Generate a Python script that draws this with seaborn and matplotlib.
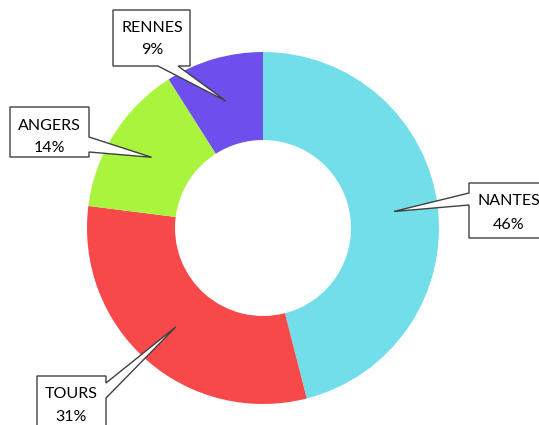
import numpy as np
import matplotlib
matplotlib.use("Agg")
import matplotlib.pyplot as plt
import seaborn as sns
from matplotlib.patches import Polygon

# ---- data ----
cities = ["NANTES", "TOURS", "ANGERS", "RENNES"]
shares = [46, 31, 14, 9]
colors = ["#72DEEA", "#F7484A", "#A9F53D", "#6E4FEE"]

sns.set_theme(style="white")
plt.rcParams['font.family'] = ['Lato', 'DejaVu Sans']

W, H = 539, 425
CX, CY = 263, 228       # pie centre in pixels
R_OUT, R_IN = 176, 88

fig = plt.figure(figsize=(W / 100, H / 100), dpi=100)
ax = fig.add_axes([0, 0, 1, 1])

wedges, _ = ax.pie(shares, colors=colors, startangle=90, counterclock=False,
                   radius=R_OUT, wedgeprops=dict(width=R_OUT - R_IN, linewidth=0))
ax.set_xlim(-CX, W - CX)
ax.set_ylim(-(H - CY), CY)
ax.set_aspect('equal')
ax.axis('off')

def px(x, y):
    return (x - CX, CY - y)

# callout boxes (pixel coords): x0, y0, x1, y1, side, base a, base b
boxes = {
    "RENNES": (113, 10, 190, 66, "bottom", 158, 178),
    "ANGERS": (10, 107, 89, 157, "right", 137, 152),
    "NANTES": (469, 183, 570, 238, "left", 193, 205),
    "TOURS": (37, 376, 106, 460, "right", 383, 398),
}
text_pos = {
    "RENNES": (152, 28, 50),
    "ANGERS": (49.5, 126, 148),
    "NANTES": (509, 201, 225),
    "TOURS": (71, 394, 417),
}

r_mid = (R_OUT + R_IN) / 2
for w, city, val in zip(wedges, cities, shares):
    ang = np.deg2rad((w.theta1 + w.theta2) / 2)
    tip = (r_mid * np.cos(ang), r_mid * np.sin(ang))
    x0, y0, x1, y1, side, a, b = boxes[city]
    if side == "bottom":
        verts = [px(x0, y0), px(x1, y0), px(x1, y1), px(b, y1), tip, px(a, y1), px(x0, y1)]
    elif side == "right":
        verts = [px(x0, y0), px(x1, y0), px(x1, a), tip, px(x1, b), px(x1, y1), px(x0, y1)]
    else:  # left
        verts = [px(x0, y0), px(x1, y0), px(x1, y1), px(x0, y1), px(x0, b), tip, px(x0, a)]
    ax.add_patch(Polygon(verts, closed=True, facecolor="white", edgecolor="#404040",
                         linewidth=1.0, zorder=5))
    tx, ty1, ty2 = text_pos[city]
    ax.text(*px(tx, ty1), city, ha="center", va="center", fontsize=11.5,
            color="#000000", zorder=6)
    ax.text(*px(tx, ty2), f"{val}%", ha="center", va="center", fontsize=11.5,
            color="#000000", zorder=6)

fig.savefig("out.png", dpi=100)
